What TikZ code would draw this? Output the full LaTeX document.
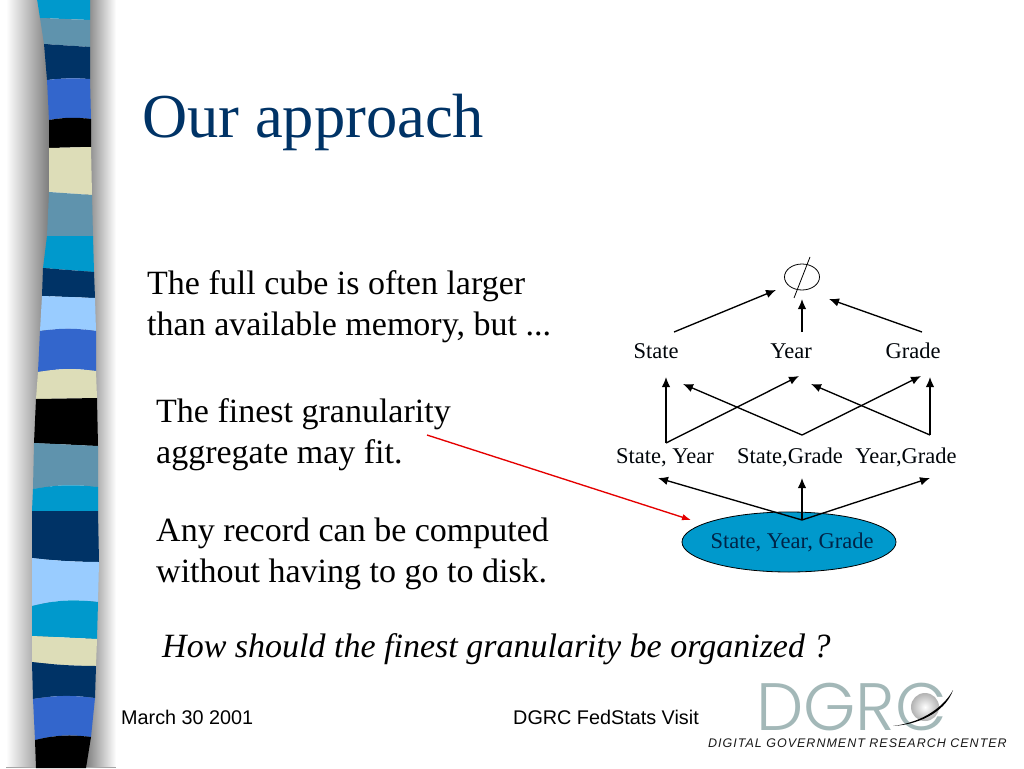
\documentclass[tikz,border=0pt]{standalone}
\usepackage{fontspec}
\setmainfont{Liberation Serif}
\newfontfamily\footfont{Liberation Sans}
\newfontfamily\logofont{Poppins Light}
\newfontfamily\subfont[LetterSpace=8]{Liberation Sans}
\usetikzlibrary{arrows.meta,shapes.geometric}
\definecolor{navy}{HTML}{003366}
\definecolor{teal}{HTML}{0099CC}
\definecolor{steel}{HTML}{5F93AD}
\definecolor{royal}{HTML}{3366CC}
\definecolor{cream}{HTML}{DDDDB8}
\definecolor{sky}{HTML}{99CCFF}
\definecolor{logogray}{HTML}{A3B8B8}
\tikzset{
  arr/.style={-{Latex[length=10pt,width=8.5pt]},line width=1.35pt},
  bodytext/.style={anchor=base west,inner sep=0,font=\fontsize{34}{40}\selectfont},
  lattice/.style={anchor=base,inner sep=0,font=\fontsize{22.5}{24}\selectfont,text=black!90!navy},
  foot/.style={anchor=base west,inner sep=0,font=\footfont\fontsize{19.8}{24}\selectfont}
}
\begin{document}
\begin{tikzpicture}[x=1pt,y=-1pt]
\useasboundingbox[fill=white](0,0)rectangle(1024,768);
\shade[left color=white,right color=black!52](6,0)rectangle(50,767);
\shade[left color=black!52,right color=white](85,0)rectangle(116,767);
\draw[black!35](6,767)--(116,767);
% bar edges, top to bottom
\foreach \i/\xl/\yl/\xr/\yr in {0/37/-1/90/-1,1/40/18/90/20,2/44/44/90/47,3/47/80/90/79,4/49/120/91/119,5/49/148/91/147,6/49/192/92/195,7/47/236/93/236,8/43/268/94/272,9/42/296/95/298,10/40/331/96/331,11/38/372/96/371,12/36/399/97/398,13/34/443/98/446,14/33/489/98/487,15/32/511/98/511,16/32/558/99/562,17/32/606/98/602,18/32/636/97/639,19/32/662/96/666,20/33/699/95/698,21/35/740/91/737,22/36/768/86/768}{
  \coordinate(l\i)at(\xl,\yl);\coordinate(r\i)at(\xr,\yr);}
\foreach \i/\j/\col/\bi/\bj in {0/1/teal/0/0,1/2/steel/0/0,2/3/navy/0/5,3/4/royal/5/8,4/5/black/8/0,5/6/cream/0/0,6/7/steel/0/0,7/8/teal/0/0,8/9/navy/0/0,9/10/sky/0/8,10/11/royal/8/8,11/12/cream/8/0,12/13/black/0/0,13/14/steel/0/8,14/15/teal/8/0,15/16/navy/0/-3,16/17/sky/-3/10,17/18/teal/10/0,18/19/cream/0/-3,19/20/navy/-3/8,20/21/royal/8/10,21/22/black/10/0}{
  \fill[\col](l\i)to[bend left=\bi](r\i)--(r\j)to[bend right=\bj](l\j)--cycle;}
\node[anchor=base west,inner sep=0,font=\fontsize{62.5}{70}\selectfont,text=navy](title)at(142,137){Our approach};
\node[bodytext](fulla)at(147,294){The full cube is often larger};
\node[bodytext](fullb)at(147,335){than available memory, but ...};
\node[bodytext](finesta)at(156,422){The finest granularity};
\node[bodytext](finestb)at(156,463){aggregate may fit.};
\node[bodytext](anya)at(156,541){Any record can be computed};
\node[bodytext](anyb)at(156,582){without having to go to disk.};
\node[bodytext,font=\fontsize{34}{40}\selectfont\itshape](how)at(162,657){How should the finest granularity be organized ?};
\node[foot](date)at(121,724){March 30 2001};
\node[foot](visit)at(513,724){DGRC FedStats Visit};
% lattice
\node[draw,ellipse,line width=.8pt,minimum width=35pt,minimum height=26pt,inner sep=0](empty)at(802,277){};
\coordinate(slasha)at(810,257);\coordinate(slashb)at(794,298);
\draw[line width=.8pt](slasha)--(slashb);
\node[lattice](state)at(656,358){State};
\node[lattice](year)at(791,358){Year};
\node[lattice](grade)at(913,358){Grade};
\node[lattice](sy)at(665,463){State, Year};
\node[lattice](sg)at(790,463){State,Grade};
\node[lattice](yg)at(906,463){Year,Grade};
\node[draw,ellipse,fill=teal,line width=.8pt,minimum width=214pt,minimum height=60pt,inner sep=0](syg)at(789,542){};
\node[lattice,text=navy!70!black](syglabel)at(792,548){State, Year, Grade};
\coordinate(fromstate)at(674,332);\coordinate(toempa)at(776,290);
\coordinate(fromyear)at(802,332);\coordinate(toempb)at(802,299);
\coordinate(fromgrade)at(922,332);\coordinate(toempc)at(829,299);
\coordinate(jsy)at(666,443);\coordinate(jsg)at(802,435);\coordinate(jyg)at(930,435);\coordinate(jsyg)at(802,520);
\coordinate(tostatea)at(666,377);\coordinate(tostateb)at(683,384);
\coordinate(toyeara)at(799,376);\coordinate(toyearb)at(811,384);
\coordinate(togradea)at(921,376);\coordinate(togradeb)at(930,377);
\coordinate(tosy)at(658,478);\coordinate(tosg)at(802,478);\coordinate(toyg)at(930,478);
\draw[arr](fromstate)--(toempa);
\draw[arr](fromyear)--(toempb);
\draw[arr](fromgrade)--(toempc);
\draw[arr](jsy)--(tostatea);\draw[arr](jsy)--(toyeara);
\draw[arr](jsg)--(tostateb);\draw[arr](jsg)--(togradea);
\draw[arr](jyg)--(toyearb);\draw[arr](jyg)--(togradeb);
\draw[arr](jsyg)--(tosy);\draw[arr](jsyg)--(tosg);\draw[arr](jsyg)--(toyg);
\coordinate(redstart)at(427,435);\coordinate(redend)at(691,520);
\draw[arr,red!90!black,-{Latex[length=9pt,width=6.5pt]}](redstart)--(redend);
% logo
\node[anchor=base west,font=\logofont\fontsize{67}{70}\selectfont,text=logogray,inner sep=0](dgrc)at(756,730){DGRC};
\shade[inner color=white,outer color=black!30](925,707)circle(14);
\coordinate(swoosha)at(893,726);\coordinate(swooshb)at(953,690);
\fill[black](swoosha).. controls(925,722)and(945,705)..(swooshb).. controls(947,708)and(925,724)..(swoosha);
\node[anchor=base west,inner sep=0,font=\subfont\itshape\fontsize{12.5}{13}\selectfont,text=black!90](center)at(708,747){DIGITAL GOVERNMENT RESEARCH CENTER};
\end{tikzpicture}
\end{document}
